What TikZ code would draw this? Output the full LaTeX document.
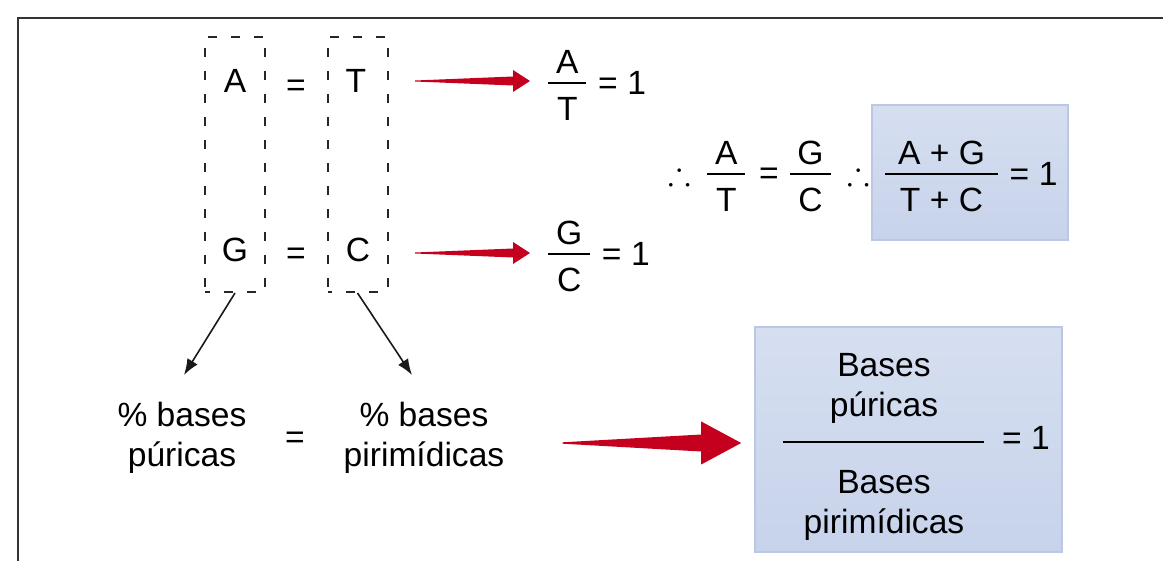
\documentclass[tikz,border=0pt]{standalone}
\usepackage{amsmath,amssymb}
\usepackage{fontspec}
\setmainfont{Liberation Sans}
\usetikzlibrary{arrows.meta,calc}
\usepackage{xcolor}
\definecolor{arrowred}{RGB}{196,0,30}
\definecolor{boxtop}{RGB}{214,223,240}
\definecolor{boxbottom}{RGB}{199,211,235}
\definecolor{boxline}{RGB}{186,200,230}

\newcommand{\fr}[2]{\genfrac{}{}{0.9pt}{0}{\mkern4mu\raisebox{-2.5pt}{#1}\mkern4mu}{\raisebox{-2.5pt}{#2}}}
\newcommand{\eqone}{\mathrel{\raisebox{-.1em}{=}}\raisebox{-.1em}{1}}
\newcommand{\redarrow}[6]{%
  \fill[arrowred] ($(#1)+(0,-#3)$) -- ($(#2)+(-#6,-#4)$) -- ($(#2)+(-#6,-#5)$) -- (#2)
    -- ($(#2)+(-#6,#5)$) -- ($(#2)+(-#6,#4)$) -- ($(#1)+(0,#3)$) -- cycle;}

\begin{document}
\begin{tikzpicture}[x=0.5pt, y=-0.5pt,
	font=\fontsize{16.8}{20}\selectfont,
	dashbox/.style={draw=black!85, line width=1pt, dash pattern=on 4.5pt off 7pt, dash phase=2.25pt, minimum width=30pt, minimum height=127.5pt, inner sep=0pt},
	glyph/.style={inner sep=0pt},
	txt/.style={align=center, inner sep=0pt},
	mathnode/.style={inner sep=0pt, anchor=base west},
	bluebox/.style={draw=boxline, line width=0.8pt, top color=boxtop, bottom color=boxbottom, inner sep=0pt},
	blackarrow/.style={draw=black!90, line width=0.8pt, -{Latex[length=8pt,width=6pt]}}]
	\useasboundingbox (0,0) rectangle (1163,561);
	\draw[black!80, line width=1.2pt] (18,561) -- (18,18) -- (1163,18);

	\node (boxAG) [dashbox] at (235,164.5) {};
	\node (boxTC) [dashbox] at (357.5,164.5) {};
	\node (A) [glyph] at (235,81) {A};
	\node (eqAT) [glyph] at (296,88) {=};
	\node (T) [glyph] at (356,81) {T};
	\node (G) [glyph] at (235,249.5) {G};
	\node (eqGC) [glyph] at (296,256) {=};
	\node (C) [glyph] at (358,249.5) {C};

	\node (fracAT) [mathnode] at (545.6,91.4) {$\fr{A}{T}\eqone$};
	\node (fracGC) [mathnode] at (545.6,262.4) {$\fr{G}{C}\eqone$};

	\node (thereA) [glyph] at (680,173) {$\therefore$};
	\node (fracAT2) [mathnode] at (704.6,182.4) {$\fr{A}{T}$};
	\node (eqRatio) [glyph] at (769,176) {=};
	\node (fracGC2) [mathnode] at (787,182.4) {$\fr{G}{C}$};
	\node (thereB) [glyph] at (859,173) {$\therefore$};
	\node (resBox) [bluebox, minimum width=98pt, minimum height=67.5pt] at (970,172.5) {};
	\node (fracSum) [mathnode] at (882.6,182.4) {$\fr{\hspace{2.5pt}A + G\hspace{2.5pt}}{T + C}\eqone$};

	\node (pur) [txt] at (182,438) {\% bases\\púricas};
	\node (eqBases) [glyph] at (295,440) {=};
	\node (pir) [txt] at (424,438) {\% bases\\pirimídicas};

	\node (resBox2) [bluebox, minimum width=153.5pt, minimum height=112.5pt] at (908.5,439.5) {};
	\node (numBases) [txt] at (884,388) {Bases\\púricas};
	\node (denBases) [txt] at (884,505) {Bases\\pirimídicas};
	\draw[line width=1pt] (783,442) -- (984,442);
	\node (oneBases) [glyph] at (1026,438) {= 1};

	\coordinate (purTip) at (184,375);
	\coordinate (pirTip) at (412,375);
	\draw[blackarrow] (boxAG.south) -- (purTip);
	\draw[blackarrow] (boxTC.south) -- (pirTip);

	\coordinate (redA0) at ($(T)+(59,0)$);
	\coordinate (redA1) at ($(fracAT.west |- T)+(-15.6,0)$);
	\redarrow{redA0}{redA1}{0.5}{4.5}{11}{17}
	\coordinate (redG0) at ($(C)+(57,3.5)$);
	\coordinate (redG1) at ($(fracGC.west |- redG0)+(-15.6,0)$);
	\redarrow{redG0}{redG1}{0.5}{4.5}{11}{17}
	\coordinate (redB0) at ($(pir.east)+(58,5)$);
	\coordinate (redB1) at ($(resBox2.west |- redB0)+(-13,0)$);
	\redarrow{redB0}{redB1}{0.7}{8.5}{21.5}{40}
\end{tikzpicture}
\end{document}
